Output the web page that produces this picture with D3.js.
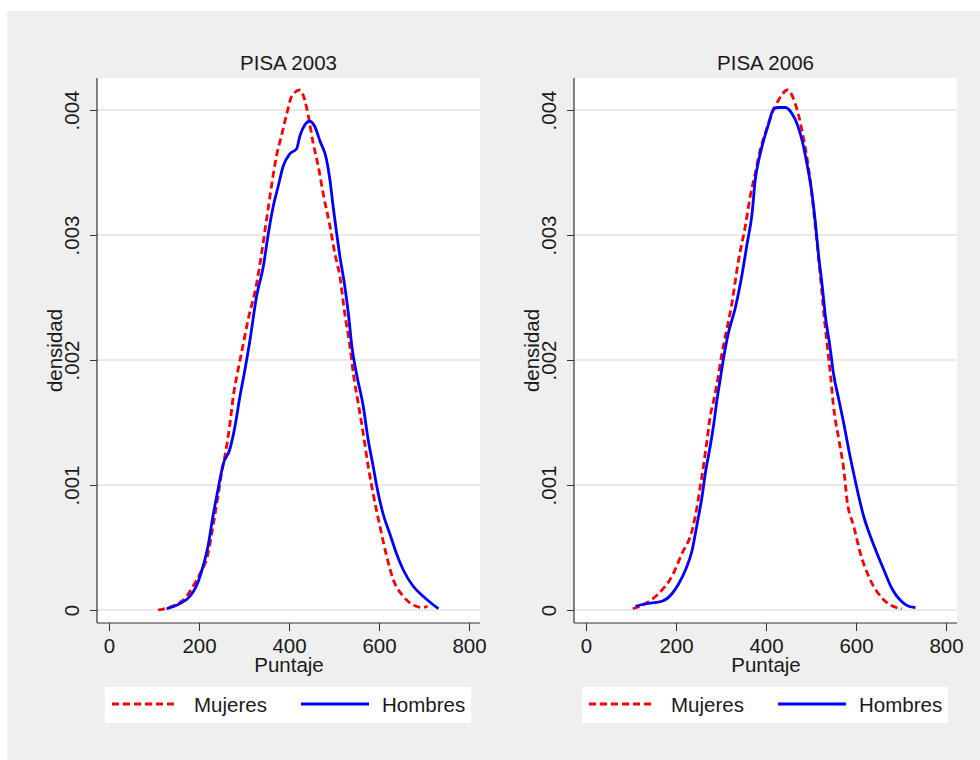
<!DOCTYPE html>
<html>
<head>
<meta charset="utf-8">
<script src="https://cdn.jsdelivr.net/npm/d3@7"></script>
<style>
body{margin:0;background:#fff}
svg text{font-family:Arial,"Liberation Sans",sans-serif;font-size:20.5px;fill:#1a1a1a}
</style>
</head>
<body>
<script>
var titles = ['PISA 2003', 'PISA 2006']
var seriesNames = ['Mujeres', 'Hombres']
var scoreTicks = [0, 200, 400, 600, 800]
var densTicks = [0, .001, .002, .003, .004]
var densLabels = ['0', '.001', '.002', '.003', '.004']

// [puntaje, densidad]
var mujeres2003 = [[109,0],[165,.00008],[187,.00019],[202,.00029],[220,.00045],[231,.00067],[242,.00091],[250,.00109],[260,.00128],[268,.00147],[277,.00173],[285,.00189],[294,.00205],[309,.00232],[328,.00261],[339,.00285],[350,.00312],[361,.00339],[372,.00363],[383,.00379],[395,.00397],[406,.00411],[424,.00416],[435,.00408],[443,.00395],[454,.00373],[465,.00355],[476,.00333],[491,.00307],[502,.00285],[513,.00267],[524,.00237],[535,.00212],[543,.00189],[554,.00165],[565,.00141],[576,.00115],[587,.00093],[602,.00067],[617,.00043],[632,.00024],[654,.00011],[676,.00004],[697,.00002],[708,.00003]]
var hombres2003 = [[128,.00001],[157,.00005],[180,.00011],[194,.00019],[209,.00035],[220,.00051],[231,.00075],[242,.00096],[254,.00117],[268,.00128],[280,.00147],[291,.00171],[302,.00192],[312,.00213],[328,.00251],[343,.00275],[354,.00301],[365,.00323],[376,.00339],[387,.00355],[402,.00365],[417,.00369],[424,.00379],[435,.00388],[446,.00391],[457,.00387],[469,.00375],[483,.00361],[491,.00344],[498,.00323],[506,.00301],[513,.00283],[524,.00259],[532,.00237],[540,.0021],[550,.00189],[565,.00163],[576,.00136],[587,.00115],[595,.00099],[609,.00077],[624,.00061],[639,.00045],[654,.00032],[676,.00019],[698,.00011],[721,.00004],[732,.00001]]
var mujeres2006 = [[104,.00001],[132,.00005],[161,.00013],[191,.00027],[213,.00045],[236,.00064],[247,.00083],[254,.00099],[261,.00115],[269,.00136],[276,.00155],[284,.00168],[291,.00181],[301,.00203],[308,.00216],[324,.00245],[339,.0028],[354,.00307],[365,.00331],[376,.00349],[387,.00368],[398,.00381],[413,.00397],[428,.00408],[448,.00416],[465,.00405],[473,.00395],[484,.00376],[494,.00355],[501,.00336],[508,.00312],[516,.00285],[523,.00259],[530,.00232],[536,.00212],[543,.00189],[550,.00163],[562,.00136],[573,.00112],[580,.00088],[595,.00067],[610,.00045],[628,.00027],[650,.00013],[672,.00005],[702,.00001]]
var hombres2006 = [[110,.00003],[132,.00005],[169,.00007],[191,.00013],[206,.00021],[221,.00032],[236,.00048],[247,.00069],[258,.00091],[265,.00109],[276,.00131],[284,.00149],[291,.00168],[298,.00184],[305,.002],[316,.00221],[332,.00242],[347,.00269],[358,.00293],[369,.00317],[376,.00344],[384,.0036],[395,.00376],[406,.00389],[417,.00401],[428,.00402],[443,.00402],[458,.00397],[469,.00389],[480,.00376],[491,.00357],[501,.00336],[510,.00309],[517,.00283],[525,.00259],[532,.00235],[542,.00211],[550,.00189],[562,.00168],[573,.00149],[584,.00128],[595,.00109],[606,.00091],[617,.00075],[632,.00059],[647,.00045],[662,.00032],[680,.00017],[698,.00008],[717,.00003],[732,.00002]]

var colors = ['#ff0000', '#0000ff']
var dashes = ['7,4', null]

var svg = d3.select('body').append('svg').attr('width', 980).attr('height', 760)

svg.append('rect').attr('x', 7).attr('y', 11).attr('width', 973).attr('height', 749).attr('fill', '#efefef')

var panels = [
  {title: titles[0], left: 97, series: [mujeres2003, hombres2003]},
  {title: titles[1], left: 574, series: [mujeres2006, hombres2006]}
]

var w = 383, h = 545

panels.forEach(function(p){
  var g = svg.append('g').attr('transform', 'translate(' + p.left + ',78)')

  var x = d3.scaleLinear().domain([0, 800]).range([12, 372])
  var y = d3.scaleLinear().domain([0, .004]).range([532, 32])

  g.append('rect').attr('width', w).attr('height', h).attr('fill', '#fff')

  g.selectAll('line.grid').data(densTicks).join('line')
    .attr('class', 'grid')
    .attr('x1', 0).attr('x2', w)
    .attr('y1', y).attr('y2', y)
    .attr('stroke', '#e3e3e3').attr('stroke-width', 1.5)

  var yAxis = g.append('g')
    .call(d3.axisLeft(y).tickValues(densTicks).tickFormat(function(d, i){ return densLabels[i] }).tickSize(7).tickSizeOuter(0))
  yAxis.select('.domain').remove()
  yAxis.selectAll('.tick line').attr('stroke', '#333')
  yAxis.selectAll('.tick text')
    .attr('transform', 'rotate(-90)')
    .attr('text-anchor', 'middle')
    .attr('x', 0).attr('y', -18).attr('dy', 0)
    .style('font-size', '20.5px').style('font-family', 'Arial, "Liberation Sans", sans-serif').attr('fill', '#1a1a1a')

  var xAxis = g.append('g').attr('transform', 'translate(0,' + h + ')')
    .call(d3.axisBottom(x).tickValues(scoreTicks).tickSize(8).tickPadding(7).tickSizeOuter(0))
  xAxis.select('.domain').remove()
  xAxis.selectAll('.tick line').attr('stroke', '#333')
  xAxis.selectAll('.tick text')
    .style('font-size', '20.5px').style('font-family', 'Arial, "Liberation Sans", sans-serif').attr('fill', '#1a1a1a')

  g.append('line').attr('x1', 0).attr('x2', 0).attr('y1', 0).attr('y2', h).attr('stroke', '#333').attr('stroke-width', 1.2)
  g.append('line').attr('x1', 0).attr('x2', w).attr('y1', h).attr('y2', h).attr('stroke', '#333').attr('stroke-width', 1.2)

  var line = d3.line()
    .x(function(d){ return x(d[0]) })
    .y(function(d){ return y(d[1]) })
    .curve(d3.curveMonotoneX)

  p.series.forEach(function(s, i){
    g.append('path').datum(s)
      .attr('d', line)
      .attr('fill', 'none')
      .attr('stroke', colors[i])
      .attr('stroke-width', 2.8)
      .attr('stroke-dasharray', dashes[i])
  })

  g.append('text').attr('x', w / 2).attr('y', -8).attr('text-anchor', 'middle').text(p.title)
  g.append('text').attr('x', x(400)).attr('y', 594).attr('text-anchor', 'middle').text('Puntaje')
  g.append('text')
    .attr('transform', 'translate(-35,' + (h / 2) + ') rotate(-90)')
    .attr('text-anchor', 'middle')
    .text('densidad')

  // legend
  var lg = g.append('g').attr('transform', 'translate(8,609)')
  lg.append('rect').attr('width', 366).attr('height', 36).attr('fill', '#fff')
  seriesNames.forEach(function(name, i){
    var x0 = i ? 196 : 7
    lg.append('line')
      .attr('x1', x0).attr('x2', x0 + (i ? 68 : 64))
      .attr('y1', 17).attr('y2', 17)
      .attr('stroke', colors[i]).attr('stroke-width', 2.8)
      .attr('stroke-dasharray', dashes[i])
    lg.append('text').attr('x', i ? 277 : 89).attr('y', 25).text(name)
  })
})
</script>
</body>
</html>
